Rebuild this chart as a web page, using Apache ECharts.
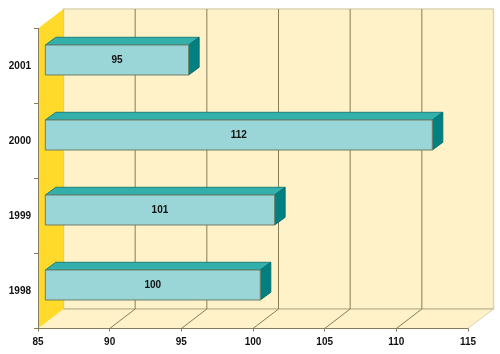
<!DOCTYPE html>
<html><head><meta charset="utf-8">
<style>html,body{margin:0;padding:0;background:#fff}#c{width:500px;height:354px}</style>
<script src="https://cdn.jsdelivr.net/npm/echarts@6/dist/echarts.min.js"></script>
</head><body><div id="c"></div>
<script>
var categories = ['1998','1999','2000','2001'];
var values = [100,101,112,95];
var xTicks = [85,90,95,100,105,110,115];

var DEPTH_X = 25.5, DEPTH_Y = 19.5;
var FRONT_X = 7.3, FRONT_Y = 6, BAR_DX = 10.5, BAR_DY = 7.7, BAR_H = 30;
var LINE = '#857c5a', WALL = '#FFF2C9', SIDE = '#FFDA2A';
var font = 'bold 10px "Liberation Sans", Arial, sans-serif';

var chart = echarts.init(document.getElementById('c'), null, {renderer:'canvas'});

function renderWalls(params, api){
  var r = params.coordSys, L=r.x, T=r.y, R=r.x+r.width, B=r.y+r.height;
  var kids = [
    {type:'polygon',shape:{points:[[L+DEPTH_X,T-DEPTH_Y],[R+DEPTH_X,T-DEPTH_Y],[R+DEPTH_X,B-DEPTH_Y],[L+DEPTH_X,B-DEPTH_Y]]},
      style:{fill:WALL,stroke:'#DAD4B4',lineWidth:1.5}},
    {type:'polygon',shape:{points:[[L,B],[L+DEPTH_X,B-DEPTH_Y],[R+DEPTH_X,B-DEPTH_Y],[R,B]]},
      style:{fill:WALL,stroke:null}},
    {type:'polygon',shape:{points:[[L,T],[L+DEPTH_X,T-DEPTH_Y],[L+DEPTH_X,B-DEPTH_Y],[L,B]]},
      style:{fill:SIDE,stroke:null}},
    {type:'line',shape:{x1:L+DEPTH_X,y1:T-DEPTH_Y,x2:L+DEPTH_X,y2:B-DEPTH_Y},style:{stroke:'#D8CE8A',lineWidth:1}},
    {type:'line',shape:{x1:L+DEPTH_X,y1:B-DEPTH_Y,x2:R+DEPTH_X,y2:B-DEPTH_Y},style:{stroke:'#B5AD88',lineWidth:1}},
    {type:'line',shape:{x1:R,y1:B,x2:R+DEPTH_X,y2:B-DEPTH_Y},style:{stroke:'#DAD4B4',lineWidth:1}}
  ];
  xTicks.forEach(function(t,i){
    if(i===0||i===xTicks.length-1) return;
    var x = api.coord([t,0])[0];
    kids.push({type:'line',shape:{x1:x+DEPTH_X,y1:T-DEPTH_Y,x2:x+DEPTH_X,y2:B-DEPTH_Y},style:{stroke:LINE,lineWidth:1}});
    kids.push({type:'line',shape:{x1:x,y1:B,x2:x+DEPTH_X,y2:B-DEPTH_Y},style:{stroke:LINE,lineWidth:1}});
  });
  return {type:'group',children:kids};
}

function renderBar(params, api){
  var v = api.value(0), c = api.value(1);
  var base = api.coord([xTicks[0],c]), end = api.coord([v,c]);
  var x0 = base[0]+FRONT_X, x1 = end[0]+FRONT_X;
  var cy = base[1]-FRONT_Y, t = cy-BAR_H/2, b = cy+BAR_H/2;
  return {type:'group',children:[
    {type:'polygon',shape:{points:[[x0,t],[x0+BAR_DX,t-BAR_DY],[x1+BAR_DX,t-BAR_DY],[x1,t]]},
      style:{fill:'#33B0AC',stroke:'#1F7F7B',lineWidth:1}},
    {type:'polygon',shape:{points:[[x1,t],[x1+BAR_DX,t-BAR_DY],[x1+BAR_DX,b-BAR_DY],[x1,b]]},
      style:{fill:'#008080',stroke:'#0A6F6F',lineWidth:1}},
    {type:'rect',shape:{x:x0,y:t,width:x1-x0,height:BAR_H},
      style:{fill:'#9AD6D8',stroke:'#6F7F66',lineWidth:1}},
    {type:'text',style:{x:(x0+x1)/2,y:cy,text:String(v),align:'center',verticalAlign:'middle',font:font,fill:'#111'}}
  ]};
}

chart.setOption({
  animation:false,
  backgroundColor:'#fff',
  grid:{left:38,right:32,top:28.5,height:300},
  xAxis:{type:'value',min:85,max:115,interval:5,z:5,
    axisLine:{show:true,lineStyle:{color:LINE,width:1}},
    axisTick:{show:true,length:3,lineStyle:{color:LINE}},
    axisLabel:{color:'#111',margin:9,fontWeight:'bold',fontSize:10,fontFamily:'Liberation Sans'},
    splitLine:{show:false}},
  yAxis:{type:'category',data:categories,z:5,
    axisLine:{show:true,lineStyle:{color:LINE,width:1}},
    axisTick:{show:true,length:4,lineStyle:{color:LINE}},
    axisLabel:{color:'#111',margin:7,fontWeight:'bold',fontSize:10,fontFamily:'Liberation Sans'}},
  series:[
    {type:'custom',z:1,silent:true,clip:false,renderItem:renderWalls,data:[[0,0]],encode:{x:0,y:1}},
    {type:'custom',z:3,silent:true,clip:false,renderItem:renderBar,
      data:values.map(function(v,i){return [v,i];}),encode:{x:0,y:1}}
  ]
});
</script></body></html>
